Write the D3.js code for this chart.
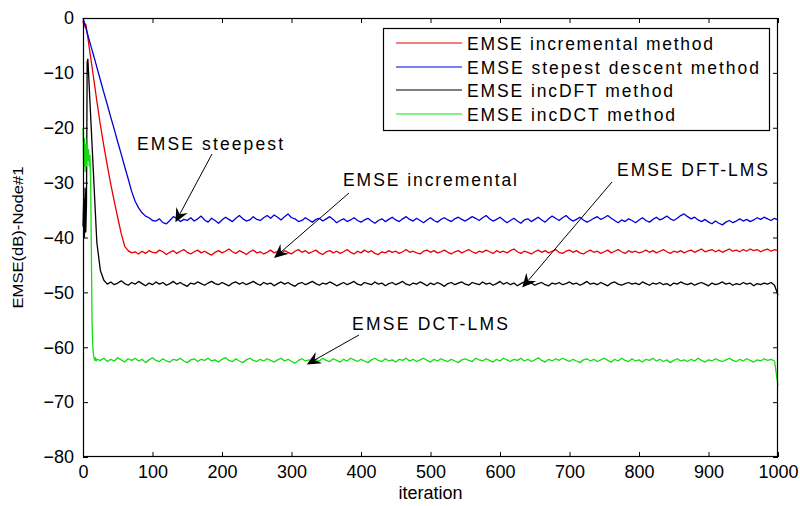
<!DOCTYPE html>
<html>
<head>
<meta charset="utf-8">
<script src="https://cdn.jsdelivr.net/npm/d3@7"></script>
<style>
  html, body { margin: 0; padding: 0; background: #fff; }
  svg { display: block; }
  text { font-family: "Liberation Sans", Arial, sans-serif; fill: #000; }
</style>
</head>
<body>
<svg id="chart" width="800" height="506"></svg>
<script>
// ---------------- DATA ----------------
// iteration grid shared by all series: 0..20 step 1, then 25..1000 step 5
const iterations = [...d3.range(0, 21), ...d3.range(25, 1001, 5)];

const seriesNames = [
  "EMSE incremental method",
  "EMSE stepest descent method",
  "EMSE incDFT method",
  "EMSE incDCT method"
];

const incrementalEMSE = [
  -0.5, -1.2, -0.8, -1.6, -1.1, -1.9, -2.7, -3.6, -4.5, -5.4, -6.3, -7.2, -8.0, -8.9, -9.8, -10.7, -11.6, -12.5, -13.4, -14.3, -15.2,
  -19.5, -23.3, -26.9, -30.3, -33.4, -36.4, -39.3, -41.6, -42.4, -42.8, -42.6, -43.0, -42.5, -42.9, -42.4, -42.7,
  -42.8, -42.3, -42.6, -43.1, -42.7, -42.4, -42.9, -42.5, -42.2, -42.7,
  -43.0, -42.6, -42.3, -42.8, -42.5, -42.9, -43.2, -42.7, -42.4, -42.8,
  -42.5, -42.1, -42.6, -42.9, -42.4, -42.7, -43.1, -42.6, -42.3, -42.8,
  -42.6, -43.0, -42.7, -42.3, -42.8, -42.5, -42.9, -42.4, -42.7, -43.0,
  -42.5, -42.2, -42.7, -42.4, -42.9, -42.6, -42.3, -42.8, -43.1, -42.6,
  -42.4, -42.8, -42.5, -42.9, -42.6, -42.2, -42.7, -43.0, -42.5, -42.8,
  -42.3, -42.7, -42.4, -42.9, -43.1, -42.6, -42.8, -42.4, -42.7, -42.5,
  -42.9, -42.6, -42.2, -42.7, -42.5, -42.8, -43.0, -42.5, -42.3, -42.7,
  -42.4, -42.8, -42.6, -42.3, -42.7, -43.0, -42.6, -42.4, -42.8, -42.5,
  -42.2, -42.6, -42.9, -42.5, -42.7, -42.3, -42.6, -42.9, -42.4, -42.7,
  -42.5, -42.8, -42.4, -42.1, -42.6, -42.9, -42.5, -42.7, -43.0, -42.6,
  -42.3, -42.7, -42.4, -42.8, -42.5, -42.2, -42.7, -42.9, -42.5, -42.3,
  -42.7, -42.4, -42.8, -43.0, -42.6, -42.3, -42.7, -42.5, -42.9, -42.6,
  -42.3, -42.8, -42.5, -42.2, -42.6, -42.9, -42.4, -42.7, -42.5, -42.8,
  -42.6, -42.3, -42.7, -42.4, -42.8, -42.5, -42.2, -42.6, -42.9, -42.5,
  -42.7, -42.4, -42.8, -42.5, -42.3, -42.7, -42.4, -42.1, -42.6, -42.4,
  -42.2, -42.6, -42.3, -42.7, -42.4, -42.1, -42.5, -42.3, -42.6, -42.2,
  -42.5, -42.1, -42.4, -42.2, -42.6, -42.3, -42.1, -42.5, -42.2, -42.4
];

const steepestEMSE = [
  0, -0.4, -0.9, -1.3, -1.8, -2.2, -2.7, -3.1, -3.6, -4.0, -4.5, -4.9, -5.4, -5.8, -6.3, -6.7, -7.2, -7.6, -8.1, -8.5, -9.0,
  -11.3, -13.6, -15.8, -18.1, -20.3, -22.6, -24.8, -27.1, -29.3, -31.6, -33.4, -34.6, -35.5, -36.1, -36.4, -36.9,
  -37.0, -36.6, -37.3, -37.5, -36.9, -36.2, -36.5, -37.1, -36.7, -36.9,
  -36.4, -37.0, -36.6, -36.1, -36.8, -37.2, -36.5, -36.9, -37.4, -36.8,
  -36.3, -36.7, -37.1, -36.5, -36.0, -36.6, -37.0, -36.8, -36.2, -36.7,
  -36.9, -36.4, -36.0, -36.5, -35.9, -36.3, -36.8, -36.2, -35.7, -36.4,
  -36.6, -37.1, -36.9, -36.4, -36.8, -37.2, -36.7, -36.5, -37.0, -36.6,
  -36.2, -36.7, -37.3, -36.9, -36.6, -37.1, -36.8, -36.4, -36.9, -37.2,
  -36.8, -36.5, -37.0, -37.4, -36.9, -36.6, -37.1, -36.7, -36.3, -36.8,
  -37.1, -36.6, -36.2, -36.7, -37.0, -36.5, -36.9, -37.3, -36.8, -36.4,
  -36.9, -37.2, -36.7, -36.4, -36.8, -37.1, -36.6, -36.3, -36.7, -37.0,
  -36.6, -36.2, -36.5, -36.9, -36.4, -36.0, -36.6, -37.0, -36.7, -36.3,
  -36.8, -37.3, -36.9, -36.5, -37.0, -37.4, -36.8, -36.6, -37.1, -36.7,
  -36.3, -36.8, -37.2, -36.6, -36.1, -36.5, -36.9, -36.4, -36.0, -36.6,
  -37.0, -36.7, -36.3, -36.8, -37.2, -36.9, -36.5, -36.2, -36.7, -36.4,
  -36.0, -36.5, -36.9, -37.3, -36.8, -37.1, -36.6, -36.9, -37.3, -36.8,
  -36.4, -36.9, -37.2, -36.7, -36.3, -36.8, -36.5, -36.1, -36.6, -36.9,
  -36.5, -36.0, -35.7, -36.2, -36.6, -36.3, -36.8, -37.1, -36.7, -37.2,
  -37.5, -37.0, -37.4, -37.7, -37.2, -36.9, -37.3, -37.0, -36.6, -37.0,
  -36.7, -37.1, -36.8, -36.4, -36.7, -36.3, -36.6, -36.9, -36.5, -36.8
];

const incDFTEMSE = [
  -38, -33, -40, -31, -39, -34, -8, -7.5, -10.0, -12.6, -15.2, -17.8, -20.4, -23.0, -25.6, -28.2, -30.8, -33.4, -36.0, -38.6, -41.0,
  -46.0, -47.8,
  -48.5, -48.1, -48.6, -48.3, -47.9, -48.4, -48.7, -48.2, -48.5, -48.0,
  -48.4, -48.8, -48.3, -48.6, -48.1, -48.5, -48.2, -48.7, -48.4, -48.0,
  -48.5, -48.2, -48.6, -48.9, -48.3, -48.5, -48.1, -48.4, -48.7, -48.3,
  -48.0, -48.4, -48.6, -48.2, -48.5, -48.8, -48.3, -48.1, -48.5, -48.2,
  -48.6, -48.3, -48.0, -48.4, -48.7, -48.2, -48.5, -48.3, -48.8, -48.4,
  -48.1, -48.5, -48.2, -48.6, -48.9, -48.4, -48.2, -48.6, -48.3, -48.0,
  -48.4, -48.7, -48.3, -48.5, -48.1, -48.4, -48.8, -48.5, -48.2, -48.6,
  -48.3, -48.0, -48.5, -48.7, -48.2, -48.4, -48.6, -48.1, -48.5, -48.3,
  -48.8, -48.4, -48.2, -48.6, -48.3, -48.0, -48.5, -48.7, -48.3, -48.5,
  -48.1, -48.4, -48.8, -48.3, -48.6, -48.2, -48.5, -48.9, -48.4, -48.2,
  -48.6, -48.3, -48.1, -48.5, -48.7, -48.2, -48.4, -48.6, -48.1, -48.5,
  -48.3, -48.7, -48.4, -48.0, -48.5, -48.2, -48.6, -48.3, -48.8, -48.4,
  -48.1, -48.5, -48.3, -48.7, -48.4, -48.2, -48.6, -48.8, -48.3, -48.5,
  -48.2, -48.6, -48.4, -48.1, -48.5, -48.3, -48.7, -48.4, -48.0, -48.5,
  -48.3, -48.6, -48.2, -48.5, -48.8, -48.3, -48.1, -48.5, -48.7, -48.4,
  -48.2, -48.5, -48.3, -48.6, -48.1, -48.4, -48.7, -48.3, -48.5, -48.2,
  -48.6, -48.4, -48.8, -48.3, -48.5, -48.1, -48.4, -48.6, -48.3, -48.7,
  -48.4, -48.2, -48.5, -48.8, -48.3, -48.6, -48.4, -48.1, -48.5, -48.3,
  -48.7, -48.4, -48.6, -48.2, -48.5, -48.3, -48.8, -48.4, -48.6, -48.3,
  -48.5, -48.2, -48.7, -50.5
];

const incDCTEMSE = [
  -20, -27, -22, -28, -23, -27, -22, -26, -24, -27, -25, -30, -42, -55, -59.5, -61.3, -62.0, -62.4, -61.9, -62.5, -62.2,
  -62.4, -62.0, -62.6, -62.2, -62.5, -61.9, -62.3, -62.7, -62.1, -62.4,
  -62.0, -62.5, -62.2, -62.8, -62.3, -61.9, -62.4, -62.6, -62.1, -62.5,
  -62.7, -62.2, -62.4, -62.0, -62.5, -62.8, -62.3, -62.1, -62.6, -62.2,
  -62.4, -62.0, -62.5, -62.3, -62.7, -62.2, -61.9, -62.4, -62.6, -62.1,
  -62.5, -62.8, -62.3, -62.0, -62.4, -62.6, -62.2, -62.5, -62.1, -62.4,
  -62.7, -62.3, -62.0, -62.5, -62.2, -62.6, -62.9, -62.4, -62.1, -62.5,
  -62.3, -62.7, -62.2, -62.5, -62.0, -62.4, -62.6, -62.1, -62.4, -62.7,
  -62.2, -62.5, -62.0, -62.3, -62.6, -62.2, -62.5, -62.8, -62.3, -62.0,
  -62.4, -62.6, -62.1, -62.5, -62.3, -62.7, -62.2, -62.4, -62.0, -62.5,
  -62.2, -62.6, -62.3, -62.0, -62.4, -62.7, -62.2, -62.5, -62.1, -62.4,
  -62.6, -62.2, -62.5, -62.8, -62.3, -62.1, -62.4, -62.6, -62.0, -62.3,
  -62.5, -62.1, -62.4, -62.7, -62.2, -62.5, -62.0, -62.3, -62.6, -62.2,
  -62.4, -62.0, -62.5, -62.2, -62.6, -62.3, -61.9, -62.4, -62.7, -62.2,
  -62.5, -62.1, -62.4, -62.0, -62.3, -62.6, -62.2, -62.5, -62.8, -62.3,
  -62.1, -62.5, -62.2, -62.6, -62.3, -62.0, -62.4, -62.7, -62.2, -62.5,
  -62.0, -62.4, -62.6, -62.1, -62.5, -62.3, -62.7, -62.2, -62.4, -62.0,
  -62.5, -62.2, -62.6, -62.3, -62.8, -62.4, -62.1, -62.5, -62.3, -62.6,
  -62.2, -62.5, -62.0, -62.4, -62.7, -62.3, -62.5, -62.1, -62.4, -62.6,
  -62.3, -62.0, -62.4, -62.6, -62.2, -62.5, -62.1, -62.4, -62.7, -62.3,
  -62.5, -62.1, -62.4, -62.2, -62.5, -67.0
];

const xTicks = [0, 100, 200, 300, 400, 500, 600, 700, 800, 900, 1000];
const yTicks = [0, -10, -20, -30, -40, -50, -60, -70, -80];

// annotations: label, where the arrow points (iteration, dB)
const annotationLabels = ["EMSE steepest", "EMSE incremental", "EMSE DFT-LMS", "EMSE DCT-LMS"];
const annotationTargets = [[133, -36.5], [275, -43.0], [632, -48.4], [322, -62.4]];

// ---------------- DRAW ----------------
const svg = d3.select("#chart");
const W = 800, H = 506;
svg.append("rect").attr("width", W).attr("height", H).attr("fill", "#fff");

const pLeft = 83, pRight = 778, pTop = 18, pBottom = 457;
const x = d3.scaleLinear().domain([0, 1000]).range([pLeft, pRight]);
const y = d3.scaleLinear().domain([-80, 0]).range([pBottom, pTop]);

const FONT = 18;

// axes (MATLAB style: ticks inside, box on)
const gx = svg.append("g").attr("transform", `translate(0,${pBottom})`)
  .call(d3.axisBottom(x).tickValues(xTicks).tickSizeInner(-5).tickSizeOuter(0).tickPadding(8).tickFormat(d3.format("d")));
const gy = svg.append("g").attr("transform", `translate(${pLeft},0)`)
  .call(d3.axisLeft(y).tickValues(yTicks).tickSizeInner(-5).tickSizeOuter(0).tickPadding(9).tickFormat(d3.format("d")));
const gxt = svg.append("g").attr("transform", `translate(0,${pTop})`)
  .call(d3.axisTop(x).tickValues(xTicks).tickSizeInner(-5).tickSizeOuter(0).tickFormat(""));
const gyr = svg.append("g").attr("transform", `translate(${pRight},0)`)
  .call(d3.axisRight(y).tickValues(yTicks).tickSizeInner(-5).tickSizeOuter(0).tickFormat(""));
[gx, gy, gxt, gyr].forEach(g => {
  g.select(".domain").remove();
  g.selectAll("line").attr("stroke", "#000").attr("stroke-width", 1);
  g.selectAll("text").attr("font-size", FONT).attr("font-family", '"Liberation Sans", Arial, sans-serif').attr("fill", "#000");
});

// series
const series = [
  { name: seriesNames[0], values: incrementalEMSE, color: "#e80000" },
  { name: seriesNames[1], values: steepestEMSE, color: "#0000d8" },
  { name: seriesNames[2], values: incDFTEMSE, color: "#000000" },
  { name: seriesNames[3], values: incDCTEMSE, color: "#12dd12" }
];

const line = d3.line().x(d => x(d[0])).y(d => y(d[1]));
const plot = svg.append("g");
series.forEach(s => {
  plot.append("path")
    .datum(iterations.map((it, i) => [it, s.values[i]]))
    .attr("d", line)
    .attr("fill", "none")
    .attr("stroke", s.color)
    .attr("stroke-width", 1.3)
    .attr("stroke-linejoin", "round");
});

// frame
svg.append("rect")
  .attr("x", pLeft + 0.5).attr("y", pTop + 0.5)
  .attr("width", pRight - pLeft - 1).attr("height", pBottom - pTop - 1)
  .attr("fill", "none").attr("stroke", "#000").attr("stroke-width", 1.2);

// axis labels
svg.append("text").attr("x", (pLeft + pRight) / 2).attr("y", 499)
  .attr("text-anchor", "middle").attr("font-size", FONT).text("iteration");
svg.append("text")
  .attr("transform", `translate(23,${(pTop + pBottom) / 2}) rotate(-90)`)
  .attr("text-anchor", "middle").attr("font-size", 15)
  .attr("textLength", 142).attr("lengthAdjust", "spacingAndGlyphs")
  .text("EMSE(dB)-Node#1");

// annotations
const annPos = [
  { tx: 137, ty: 150, w: 146, sx: 212, sy: 154 },
  { tx: 343, ty: 186, w: 174, sx: 349, sy: 193 },
  { tx: 617, ty: 176, w: 151, sx: 612, sy: 182 },
  { tx: 352, ty: 330, w: 156, sx: 359, sy: 335 }
];
annotationLabels.forEach((lab, i) => {
  const p = annPos[i];
  svg.append("text").attr("x", p.tx).attr("y", p.ty).attr("font-size", 17.5)
    .attr("textLength", p.w).attr("lengthAdjust", "spacing").text(lab);
  const ex = x(annotationTargets[i][0]), ey = y(annotationTargets[i][1]) + 4;
  const ang = Math.atan2(ey - p.sy, ex - p.sx);
  const L = 14, Wd = 6.5;
  const bx = ex - L * Math.cos(ang), by = ey - L * Math.sin(ang);
  const nx = ex - L * 0.65 * Math.cos(ang), ny = ey - L * 0.65 * Math.sin(ang);
  svg.append("line").attr("x1", p.sx).attr("y1", p.sy).attr("x2", nx).attr("y2", ny)
    .attr("stroke", "#000").attr("stroke-width", 1);
  const px = -Math.sin(ang), py = Math.cos(ang);
  svg.append("path")
    .attr("d", `M${ex},${ey} L${bx + px * Wd},${by + py * Wd} L${nx},${ny} L${bx - px * Wd},${by - py * Wd} Z`)
    .attr("fill", "#000");
});

// legend
const lg = svg.append("g");
lg.append("rect").attr("x", 383.5).attr("y", 28.5).attr("width", 386).attr("height", 102)
  .attr("fill", "#fff").attr("stroke", "#000").attr("stroke-width", 1.2);
const rowY = [43, 67, 90, 114];
const legW = [246, 292, 206, 208];
series.forEach((s, i) => {
  lg.append("line").attr("x1", 396).attr("x2", 462).attr("y1", rowY[i]).attr("y2", rowY[i])
    .attr("stroke", s.color).attr("stroke-width", 1.2);
  lg.append("text").attr("x", 467).attr("y", rowY[i] + 6.5).attr("font-size", 17.5)
    .attr("textLength", legW[i]).attr("lengthAdjust", "spacing").text(s.name);
});
</script>
</body>
</html>
